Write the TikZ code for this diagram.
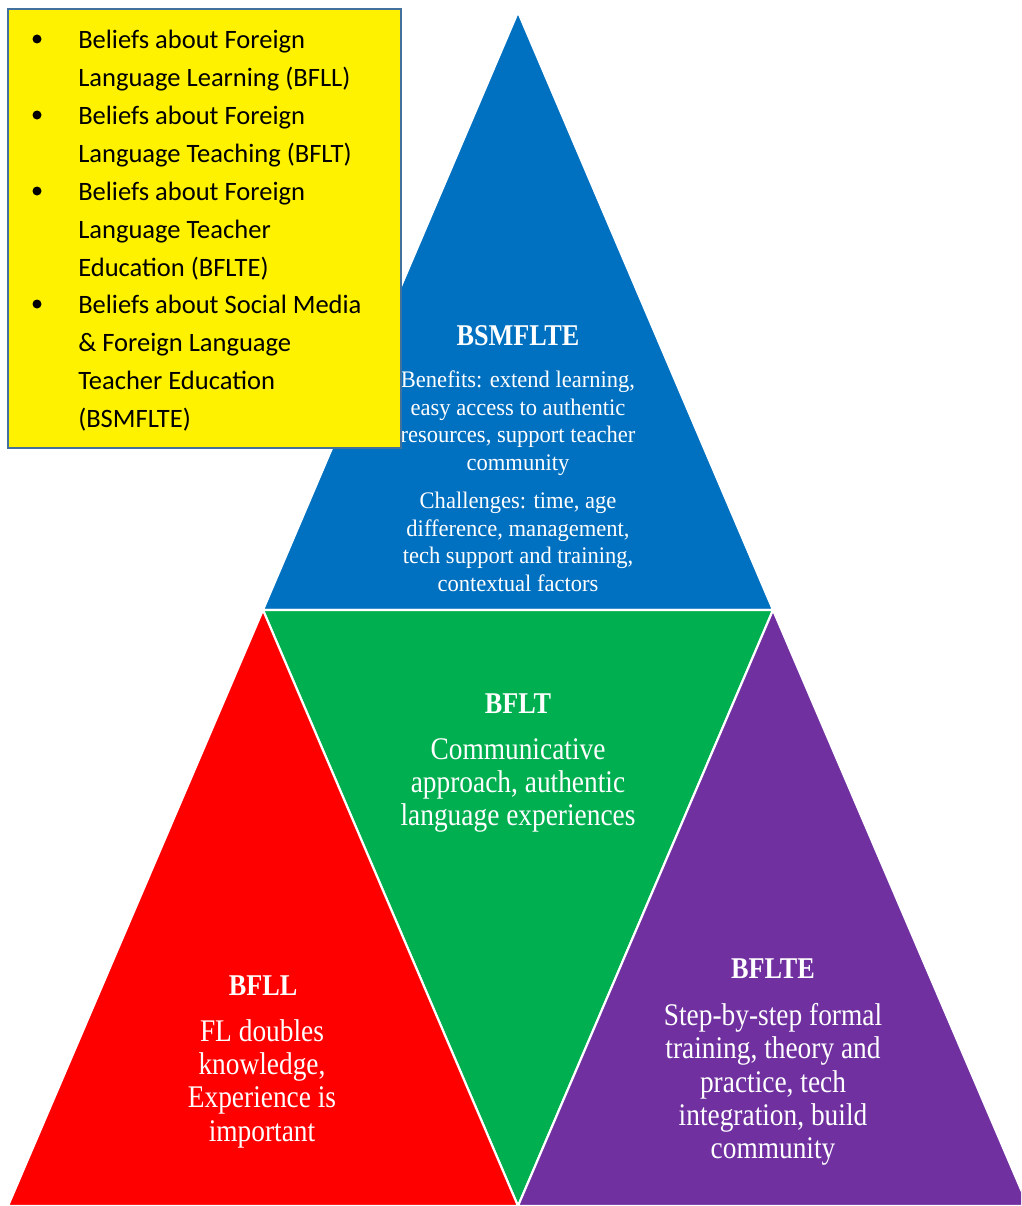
\documentclass[tikz,border=0pt]{standalone}
\usepackage{fontspec}
\setmainfont{Liberation Serif}
\newfontfamily\listfont{Carlito}
\newfontfamily\narrowserif[FakeStretch=0.87]{Liberation Serif}
\newfontfamily\slimserif[FakeStretch=0.95]{Liberation Serif}
\usepackage{xcolor}

\definecolor{topblue}{HTML}{0070C0}
\definecolor{midgreen}{HTML}{00B050}
\definecolor{leftred}{HTML}{FF0000}
\definecolor{rightpurple}{HTML}{7030A0}
\definecolor{boxline}{HTML}{41719C}

\begin{document}
\begin{tikzpicture}[x=0.75pt,y=-0.75pt,
  piece/.style={draw=white,line width=1.6pt,line join=miter},
  heading/.style={text=white,inner sep=0pt,anchor=base,font=\narrowserif\fontsize{22.6}{26}\selectfont\bfseries},
  bodytext/.style={text=white,inner sep=0pt,anchor=north,align=center,font=\narrowserif\fontsize{23.6}{25}\selectfont},
  smalltext/.style={text=white,inner sep=0pt,anchor=north,align=center,font=\slimserif\fontsize{17.8}{20.6}\selectfont},
  listitem/.style={inner sep=0pt,anchor=north west,align=left,font=\listfont\fontsize{19.9}{28.4}\selectfont}]
  \useasboundingbox (0,0) rectangle (1021,1206);
  \clip (0,0) rectangle (1021,1206);

  % corners of the pyramid
  \coordinate (top) at (518,12);
  \coordinate (midL) at (263,610);
  \coordinate (midR) at (773,610);
  \coordinate (botL) at (8,1206);
  \coordinate (botM) at (518,1206);
  \coordinate (botR) at (1028,1206);

  % four triangles
  \filldraw[piece,fill=topblue] (top) -- (midR) -- (midL) -- cycle;
  \filldraw[piece,fill=midgreen] (midL) -- (midR) -- (botM) -- cycle;
  \filldraw[piece,fill=leftred] (midL) -- (botM) -- (botL) -- cycle;
  \filldraw[piece,fill=rightpurple] (midR) -- (botR) -- (botM) -- cycle;

  % top: BSMFLTE
  \node[heading] (bsmHead) at (518,345) {BSMFLTE};
  \node[smalltext] (bsmBenefits) at (518,371) {Benefits: extend learning,\\easy access to authentic\\resources, support teacher\\community};
  \node[smalltext] (bsmChallenges) at (518,492) {Challenges: time, age\\difference, management,\\tech support and training,\\contextual factors};

  % middle: BFLT
  \node[heading] (bfltHead) at (518,713) {BFLT};
  \node[bodytext] (bfltText) at (518,738) {Communicative\\approach, authentic\\language experiences};

  % left: BFLL
  \node[heading] (bfllHead) at (263,995) {BFLL};
  \node[bodytext] (bfllText) at (262,1019) {FL doubles\\knowledge,\\Experience is\\important};

  % right: BFLTE
  \node[heading] (bflteHead) at (773,978) {BFLTE};
  \node[bodytext] (bflteText) at (773,1003) {Step-by-step formal\\training, theory and\\practice, tech\\integration, build\\community};

  % legend box
  \filldraw[fill=yellow,draw=boxline,line width=1.5pt] (8,9) rectangle (401,448);
  \fill (37,39) circle (4.5);
  \fill (37,115) circle (4.5);
  \fill (37,191) circle (4.5);
  \fill (37,304) circle (4.5);
  \node[listitem] (itemBFLL) at (78,30) {Beliefs about Foreign\\Language Learning (BFLL)};
  \node[listitem] (itemBFLT) at (78,106) {Beliefs about Foreign\\Language Teaching (BFLT)};
  \node[listitem] (itemBFLTE) at (78,182) {Beliefs about Foreign\\Language Teacher\\Education (BFLTE)};
  \node[listitem] (itemBSMFLTE) at (78,295) {Beliefs about Social Media\\\& Foreign Language\\Teacher Education\\(BSMFLTE)};
\end{tikzpicture}
\end{document}
